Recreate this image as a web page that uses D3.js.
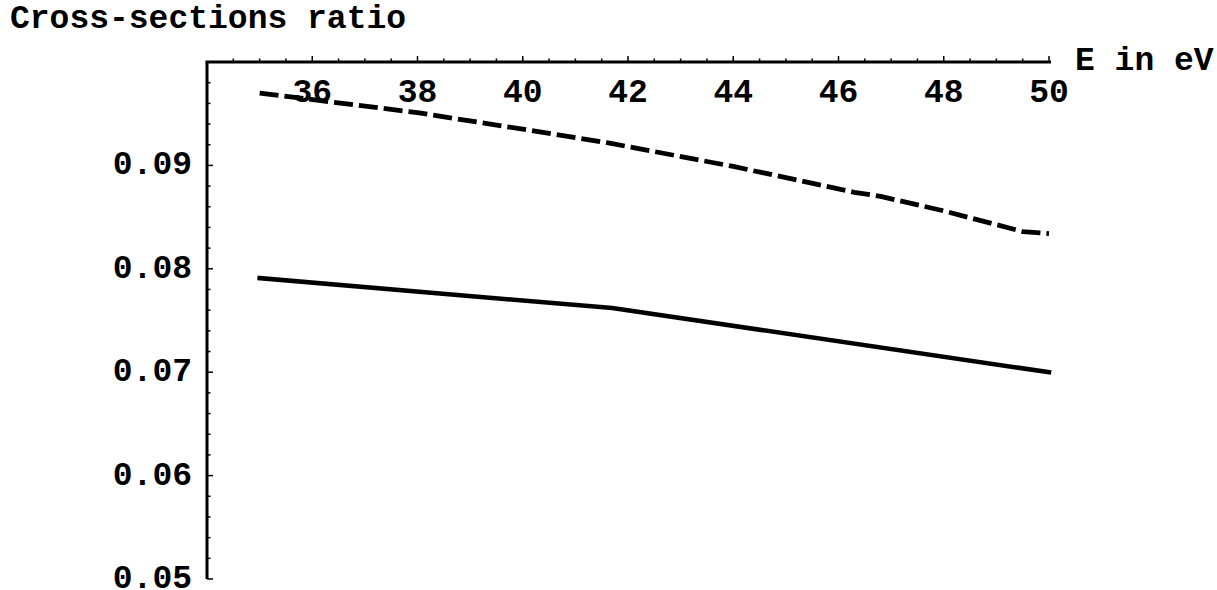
<!DOCTYPE html>
<html>
<head>
<meta charset="utf-8">
<script src="https://cdn.jsdelivr.net/npm/d3@7"></script>
<style>
    body { margin: 0; background: #fff; }
    text { font-family: "Liberation Mono", "Courier New", monospace; font-weight: bold; fill: #000; }
</style>
</head>
<body>
<svg id="chart" width="1217" height="590"></svg>
<script>
"use strict";

// energies (eV) and ratios
var solidEnergy = [35, 41.7, 50];
var solidRatio = [0.0791, 0.0762, 0.0700];

var dashedEnergy = [35, 38, 40, 41.6, 44, 46.3, 46.8, 48, 49.5, 50];
var dashedRatio = [0.0970, 0.0951, 0.0935, 0.0922, 0.0899, 0.0874, 0.0870, 0.0856, 0.0836, 0.0834];

var xTicks = [36, 38, 40, 42, 44, 46, 48, 50];
var yTicks = [0.05, 0.06, 0.07, 0.08, 0.09];

var svg = d3.select("#chart");

var x = d3.scaleLinear().domain([34, 50]).range([207, 1049]);
var y = d3.scaleLinear().domain([0.05, 0.1]).range([579, 62]);

/**
 * Zips two arrays into [x, y] pairs for d3.line.
 */
function pairs(xs, ys) {
    return xs.map(function (d, i) { return [d, ys[i]]; });
}

var line = d3.line()
    .x(function (d) { return x(d[0]); })
    .y(function (d) { return y(d[1]); });

var axisG = svg.append("g");

// minor ticks on x (every 0.5), pointing up
axisG.selectAll("line.xminor")
    .data(d3.range(34.5, 50.01, 0.5))
    .enter().append("line")
    .attr("x1", function (d) { return x(d); })
    .attr("x2", function (d) { return x(d); })
    .attr("y1", y(0.1))
    .attr("y2", function (d) { return y(0.1) - (xTicks.indexOf(d) >= 0 ? 6 : 3.5); })
    .attr("stroke", "#000")
    .attr("stroke-width", 1.5);

// minor ticks on y (every 0.002), pointing right
axisG.selectAll("line.yminor")
    .data(d3.range(0, 25).map(function (i) { return 0.05 + i * 0.002; }))
    .enter().append("line")
    .attr("x1", x(34))
    .attr("x2", function (d, i) { return x(34) + (i % 5 === 0 ? 6 : 3.5); })
    .attr("y1", function (d) { return y(d); })
    .attr("y2", function (d) { return y(d); })
    .attr("stroke", "#000")
    .attr("stroke-width", 1.5);

// axis lines
axisG.append("line")
    .attr("x1", x(34) - 1.5).attr("x2", x(50) + 2)
    .attr("y1", y(0.1)).attr("y2", y(0.1))
    .attr("stroke", "#000").attr("stroke-width", 3);

axisG.append("line")
    .attr("x1", x(34)).attr("x2", x(34))
    .attr("y1", y(0.1)).attr("y2", y(0.05))
    .attr("stroke", "#000").attr("stroke-width", 3);

// tick labels
axisG.selectAll("text.xlab")
    .data(xTicks)
    .enter().append("text")
    .attr("x", function (d) { return x(d); })
    .attr("y", 102)
    .attr("text-anchor", "middle")
    .attr("font-size", 33)
    .text(function (d) { return d; });

axisG.selectAll("text.ylab")
    .data(yTicks)
    .enter().append("text")
    .attr("x", 192)
    .attr("y", function (d) { return y(d) + 9; })
    .attr("text-anchor", "end")
    .attr("font-size", 33)
    .text(function (d) { return d3.format(".2f")(d); });

// axis titles
svg.append("text")
    .attr("x", 10).attr("y", 28)
    .attr("font-size", 33)
    .text("Cross-sections ratio");

svg.append("text")
    .attr("x", 1075).attr("y", 70)
    .attr("font-size", 33)
    .text("E in eV");

// curves
svg.append("path")
    .datum(pairs(dashedEnergy, dashedRatio))
    .attr("d", line)
    .attr("fill", "none")
    .attr("stroke", "#000")
    .attr("stroke-width", 4.8)
    .attr("stroke-dasharray", "19,6");

svg.append("path")
    .datum(pairs(solidEnergy, solidRatio))
    .attr("d", line)
    .attr("fill", "none")
    .attr("stroke", "#000")
    .attr("stroke-width", 4.5)
    .attr("stroke-linecap", "square");
</script>
</body>
</html>
